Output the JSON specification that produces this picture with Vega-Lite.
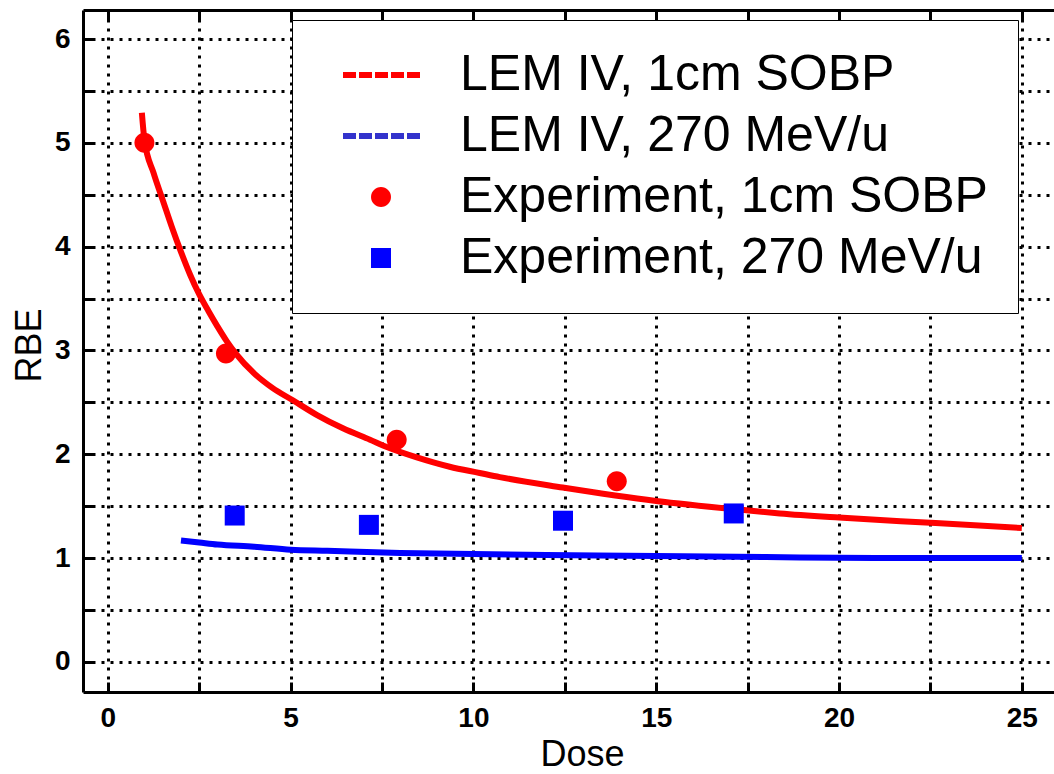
{
  "$schema": "https://vega.github.io/schema/vega-lite/v6.json",
  "width": 971,
  "height": 682,
  "autosize": "none",
  "padding": {"left": 83, "top": 10, "right": 0, "bottom": 82},
  "background": "white",
  "config": {"view": {"stroke": null}, "font": "Liberation Sans"},
  "data": {
    "values": [
      {"series": "LEM IV, 1cm SOBP", "dose": 0.93, "rbe": 5.29},
      {"series": "LEM IV, 1cm SOBP", "dose": 1.0, "rbe": 5.03},
      {"series": "LEM IV, 1cm SOBP", "dose": 1.25, "rbe": 4.71},
      {"series": "LEM IV, 1cm SOBP", "dose": 1.5, "rbe": 4.45},
      {"series": "LEM IV, 1cm SOBP", "dose": 1.75, "rbe": 4.19},
      {"series": "LEM IV, 1cm SOBP", "dose": 2.0, "rbe": 3.95},
      {"series": "LEM IV, 1cm SOBP", "dose": 2.25, "rbe": 3.73},
      {"series": "LEM IV, 1cm SOBP", "dose": 2.5, "rbe": 3.54},
      {"series": "LEM IV, 1cm SOBP", "dose": 2.75, "rbe": 3.38},
      {"series": "LEM IV, 1cm SOBP", "dose": 3.0, "rbe": 3.23},
      {"series": "LEM IV, 1cm SOBP", "dose": 3.25, "rbe": 3.09},
      {"series": "LEM IV, 1cm SOBP", "dose": 3.5, "rbe": 2.97},
      {"series": "LEM IV, 1cm SOBP", "dose": 4.0, "rbe": 2.78},
      {"series": "LEM IV, 1cm SOBP", "dose": 4.5, "rbe": 2.64},
      {"series": "LEM IV, 1cm SOBP", "dose": 5.06, "rbe": 2.52},
      {"series": "LEM IV, 1cm SOBP", "dose": 5.71, "rbe": 2.38},
      {"series": "LEM IV, 1cm SOBP", "dose": 6.43, "rbe": 2.25},
      {"series": "LEM IV, 1cm SOBP", "dose": 7.17, "rbe": 2.14},
      {"series": "LEM IV, 1cm SOBP", "dose": 7.63, "rbe": 2.07},
      {"series": "LEM IV, 1cm SOBP", "dose": 8.45, "rbe": 1.97},
      {"series": "LEM IV, 1cm SOBP", "dose": 9.35, "rbe": 1.88},
      {"series": "LEM IV, 1cm SOBP", "dose": 10.17, "rbe": 1.82},
      {"series": "LEM IV, 1cm SOBP", "dose": 10.72, "rbe": 1.78},
      {"series": "LEM IV, 1cm SOBP", "dose": 12.44, "rbe": 1.68},
      {"series": "LEM IV, 1cm SOBP", "dose": 15.0, "rbe": 1.55},
      {"series": "LEM IV, 1cm SOBP", "dose": 17.47, "rbe": 1.46},
      {"series": "LEM IV, 1cm SOBP", "dose": 18.38, "rbe": 1.43},
      {"series": "LEM IV, 1cm SOBP", "dose": 20.0, "rbe": 1.39},
      {"series": "LEM IV, 1cm SOBP", "dose": 22.5, "rbe": 1.34},
      {"series": "LEM IV, 1cm SOBP", "dose": 25.0, "rbe": 1.29},
      {"series": "LEM IV, 270 MeV/u", "dose": 2.0, "rbe": 1.17},
      {"series": "LEM IV, 270 MeV/u", "dose": 2.5, "rbe": 1.15},
      {"series": "LEM IV, 270 MeV/u", "dose": 3.0, "rbe": 1.13},
      {"series": "LEM IV, 270 MeV/u", "dose": 4.0, "rbe": 1.11},
      {"series": "LEM IV, 270 MeV/u", "dose": 5.0, "rbe": 1.08},
      {"series": "LEM IV, 270 MeV/u", "dose": 6.0, "rbe": 1.07},
      {"series": "LEM IV, 270 MeV/u", "dose": 8.0, "rbe": 1.05},
      {"series": "LEM IV, 270 MeV/u", "dose": 10.0, "rbe": 1.04},
      {"series": "LEM IV, 270 MeV/u", "dose": 12.0, "rbe": 1.03},
      {"series": "LEM IV, 270 MeV/u", "dose": 15.0, "rbe": 1.02},
      {"series": "LEM IV, 270 MeV/u", "dose": 18.0, "rbe": 1.01},
      {"series": "LEM IV, 270 MeV/u", "dose": 21.0, "rbe": 1.0},
      {"series": "LEM IV, 270 MeV/u", "dose": 25.0, "rbe": 1.0},
      {"series": "Experiment, 1cm SOBP", "dose": 1.0, "rbe": 5.0},
      {"series": "Experiment, 1cm SOBP", "dose": 3.23, "rbe": 2.97},
      {"series": "Experiment, 1cm SOBP", "dose": 7.9, "rbe": 2.14},
      {"series": "Experiment, 1cm SOBP", "dose": 13.92, "rbe": 1.74},
      {"series": "Experiment, 270 MeV/u", "dose": 3.47, "rbe": 1.41},
      {"series": "Experiment, 270 MeV/u", "dose": 7.14, "rbe": 1.32},
      {"series": "Experiment, 270 MeV/u", "dose": 12.45, "rbe": 1.36},
      {"series": "Experiment, 270 MeV/u", "dose": 17.12, "rbe": 1.43}
    ]
  },
  "resolve": {"axis": {"x": "independent"}},
  "layer": [
    {
      "transform": [{"filter": "indexof(datum.series, 'LEM') == 0"}],
      "mark": {"type": "line", "strokeWidth": 6, "interpolate": "monotone"},
      "encoding": {
        "x": {
          "field": "dose", "type": "quantitative",
          "scale": {"domain": [-0.68, 25.88], "nice": false, "zero": false},
          "axis": {
            "orient": "bottom",
            "values": [0, 2.5, 5, 7.5, 10, 12.5, 15, 17.5, 20, 22.5, 25],
            "labelExpr": "datum.value % 5 == 0 ? format(datum.value, 'd') : ''",
            "grid": true, "gridColor": "black", "gridDash": [3, 6], "gridWidth": 3, "gridOpacity": 1,
            "tickSize": -10, "tickWidth": 3, "tickColor": "black",
            "domainColor": "black", "domainWidth": 3,
            "labelFont": "Liberation Sans", "labelFontWeight": "bold", "labelFontSize": 28, "labelColor": "black",
            "labelPadding": 22,
            "title": "Dose", "titleFont": "Liberation Sans", "titleFontSize": 36, "titleFontWeight": "normal", "titleColor": "black",
            "titleX": 499, "titleY": 45, "titleBaseline": "top"
          }
        },
        "y": {
          "field": "rbe", "type": "quantitative",
          "scale": {"domain": [-0.29, 6.28], "nice": false, "zero": false},
          "axis": {
            "values": [0, 0.5, 1, 1.5, 2, 2.5, 3, 3.5, 4, 4.5, 5, 5.5, 6],
            "labelExpr": "datum.value % 1 == 0 ? format(datum.value, 'd') : ''",
            "grid": true, "gridColor": "black", "gridDash": [3, 6], "gridWidth": 3, "gridOpacity": 1,
            "tickSize": -10, "tickWidth": 3, "tickColor": "black",
            "domainColor": "black", "domainWidth": 3,
            "labelFont": "Liberation Sans", "labelFontWeight": "bold", "labelFontSize": 28, "labelColor": "black",
            "labelPadding": 23,
            "title": "RBE", "titleFont": "Liberation Sans", "titleFontSize": 36, "titleFontWeight": "normal", "titleColor": "black",
            "titleX": -54, "titleY": 335, "titleAngle": 270, "titleBaseline": "middle", "titleAlign": "center"
          }
        },
        "stroke": {
          "field": "series", "type": "nominal",
          "scale": {
            "domain": ["LEM IV, 1cm SOBP", "LEM IV, 270 MeV/u"],
            "range": ["#ff0000", "#0000ff"]
          },
          "legend": null
        }
      }
    },
    {
      "transform": [{"filter": "indexof(datum.series, 'Experiment') == 0"}],
      "mark": {"type": "point", "filled": true, "opacity": 1, "size": 1600, "strokeWidth": 0},
      "encoding": {
        "x": {
          "field": "dose", "type": "quantitative",
          "axis": {
            "orient": "top", "labels": false, "grid": false, "title": null,
            "values": [0, 2.5, 5, 7.5, 10, 12.5, 15, 17.5, 20, 22.5, 25],
            "tickSize": -10, "tickWidth": 3, "tickColor": "black",
            "domainColor": "black", "domainWidth": 3
          }
        },
        "y": {"field": "rbe", "type": "quantitative"},
        "color": {
          "field": "series", "type": "nominal",
          "scale": {
            "domain": ["LEM IV, 1cm SOBP", "LEM IV, 270 MeV/u", "Experiment, 1cm SOBP", "Experiment, 270 MeV/u"],
            "range": ["#ff0000", "#3333cc", "#ff0000", "#0000ff"]
          },
          "legend": {
            "title": null, "orient": "none", "legendX": 209, "legendY": 10,
            "strokeColor": "black", "fillColor": "white", "padding": 30,
            "labelFont": "Liberation Sans", "labelFontSize": 50, "labelColor": "black", "labelLimit": 800,
            "symbolSize": 1600, "symbolStrokeWidth": 0, "symbolOpacity": 1,
            "symbolOffset": 34, "labelOffset": 54, "rowPadding": 11
          }
        },
        "shape": {
          "field": "series", "type": "nominal",
          "scale": {
            "domain": ["LEM IV, 1cm SOBP", "LEM IV, 270 MeV/u", "Experiment, 1cm SOBP", "Experiment, 270 MeV/u"],
            "range": [
              "M-1.9,-0.15H-1.25V0.15H-1.9Z M-1.1,-0.15H-0.45V0.15H-1.1Z M-0.3,-0.15H0.35V0.15H-0.3Z M0.5,-0.15H1.15V0.15H0.5Z M1.3,-0.15H1.95V0.15H1.3Z",
              "M-1.9,-0.15H-1.25V0.15H-1.9Z M-1.1,-0.15H-0.45V0.15H-1.1Z M-0.3,-0.15H0.35V0.15H-0.3Z M0.5,-0.15H1.15V0.15H0.5Z M1.3,-0.15H1.95V0.15H1.3Z",
              "M-0.5,0A0.5,0.5,0,1,0,0.5,0A0.5,0.5,0,1,0,-0.5,0Z",
              "M-0.5,-0.5H0.5V0.5H-0.5Z"
            ]
          },
          "legend": {
            "title": null, "orient": "none", "legendX": 209, "legendY": 10,
            "strokeColor": "black", "fillColor": "white", "padding": 30,
            "labelFont": "Liberation Sans", "labelFontSize": 50, "labelColor": "black", "labelLimit": 800,
            "symbolSize": 1600, "symbolStrokeWidth": 0, "symbolOpacity": 1,
            "symbolOffset": 34, "labelOffset": 54, "rowPadding": 11
          }
        }
      }
    }
  ]
}
